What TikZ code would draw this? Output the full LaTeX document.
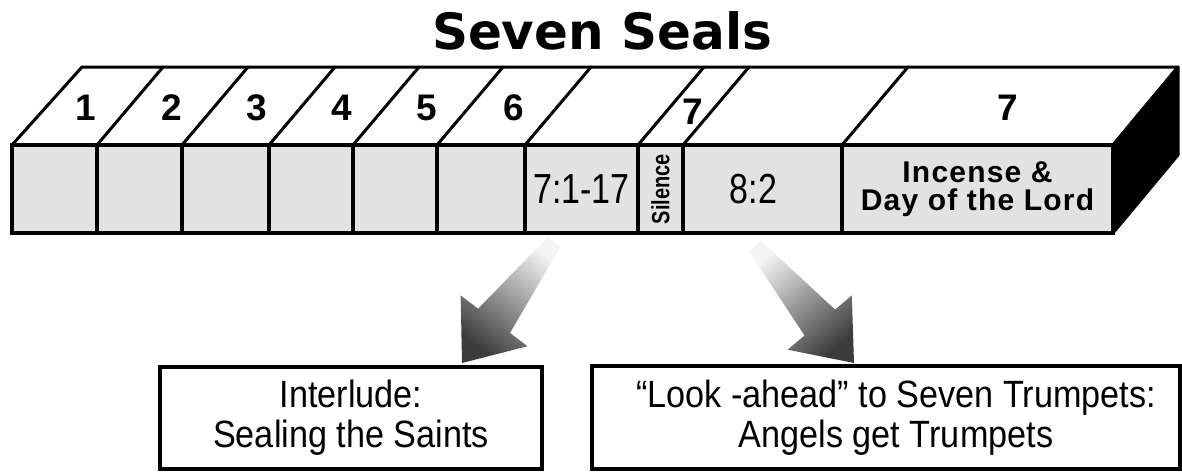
\documentclass[tikz,border=0pt]{standalone}
\usepackage{graphicx}
\usepackage{fontspec}
\setmainfont{Liberation Sans}
\newfontfamily\titlefont{DejaVu Sans}
\newfontfamily\incfont[LetterSpace=4]{Liberation Sans}
\usetikzlibrary{calc}
\definecolor{facegray}{HTML}{E2E2E2}
\definecolor{arrowdark}{HTML}{3C3C3C}
\definecolor{arrowmid}{HTML}{8A8A8A}
\definecolor{arrowlight}{HTML}{F4F4F4}
\newcommand{\fadearrow}[3]{%
  \coordinate (#1h) at ($(#1)!53pt!(#2)$);
  \shade[top color=arrowlight, middle color=arrowmid, bottom color=arrowdark, shading angle=#3]
    (#1) -- ($(#1h)!42pt!90:(#2)$) -- ($(#1h)!20pt!90:(#2)$)
    -- ($(#2)!8pt!-90:(#1)$) -- ($(#2)!8pt!90:(#1)$)
    -- ($(#1h)!20pt!-90:(#2)$) -- ($(#1h)!42pt!-90:(#2)$) -- cycle;}
\begin{document}
\begin{tikzpicture}[x=1pt,y=-1pt,
  cell/.style={draw=black, line width=4pt, fill=facegray, minimum height=88pt,
    inner sep=0pt, outer sep=0pt, anchor=north west, align=center},
  num/.style={font=\bfseries\fontsize{37}{37}\selectfont, inner sep=0pt},
  slant/.style={line width=3pt, line cap=round},
  txtbox/.style={draw=black, line width=4pt, fill=white, inner sep=0pt, outer sep=0pt,
    anchor=north west, align=center, font=\fontsize{38}{40}\selectfont},
  ref/.style={font=\fontsize{42}{42}\selectfont}
  ]
\useasboundingbox (0,0) rectangle (1182,471);

% title
\node[inner sep=0pt, font=\titlefont\bfseries\fontsize{50}{50}\selectfont] (title) at (602,31) {Seven Seals};

% top face and side face
\draw[line width=3pt, line join=round, fill=white] (12,145) -- (82,67) -- (1178,67) -- (1113,145) -- cycle;
\foreach \x in {97,182,269,353,437,525,638,683,842}
  \draw[slant] (\x,145) -- ++(66,-78);
\draw[line width=3pt, line join=round, fill=black] (1113,145) -- (1178,67) -- (1178,155) -- (1113,233) -- cycle;

% front cells
\node[cell, minimum width=85pt] (c1) at (12,145) {};
\node[cell, minimum width=85pt] (c2) at (97,145) {};
\node[cell, minimum width=87pt] (c3) at (182,145) {};
\node[cell, minimum width=84pt] (c4) at (269,145) {};
\node[cell, minimum width=84pt] (c5) at (353,145) {};
\node[cell, minimum width=88pt] (c6) at (437,145) {};
\node[cell, minimum width=113pt, ref] (c7) at (525,145) {\scalebox{0.81}[1]{7:1-17}};
\node[cell, minimum width=45pt] (c8) at (638,145) {\rotatebox{90}{\scalebox{0.8}[1]{\bfseries\fontsize{25}{25}\selectfont Silence}}};
\node[cell, minimum width=159pt, ref] (c9) at (683,145) {\hspace*{-18pt}\scalebox{0.81}[1]{8:2}};
\node[cell, minimum width=271pt, font=\incfont\bfseries\fontsize{30}{28}\selectfont] (c10) at (842,145) {Incense \&\\Day of the Lord};

% seal numbers
\node[num] (n1) at (86,107.5) {1};
\node[num] (n2) at (172,107.5) {2};
\node[num] (n3) at (257,107.5) {3};
\node[num] (n4) at (342,107.5) {4};
\node[num] (n5) at (427,107.5) {5};
\node[num] (n6) at (514,107.5) {6};
\node[num] (n7) at (693,112) {7};
\node[num] (n7b) at (1008,107.5) {7};

% bottom boxes
\node[txtbox, minimum width=382pt, minimum height=102pt] (lbox) at (160,367)
  {\scalebox{0.9}[1]{Interlude:}\\\scalebox{0.9}[1]{Sealing the Saints}};
\node[txtbox, minimum width=588pt, minimum height=103pt] (rbox) at (592,366)
  {\hspace*{20pt}\scalebox{0.9}[1]{“Look -ahead” to Seven Trumpets:}\\\hspace*{20pt}\scalebox{0.9}[1]{Angels get Trumpets}};

% arrows
\coordinate (a1tail) at (554,242);
\coordinate (a1tip) at ($(lbox.north west)+(302,-4)$);
\coordinate (a2tail) at (755,246);
\coordinate (a2tip) at ($(rbox.north west)+(262,-3)$);
\fadearrow{a1tip}{a1tail}{-37.5}
\fadearrow{a2tip}{a2tail}{39.5}
\end{tikzpicture}
\end{document}
